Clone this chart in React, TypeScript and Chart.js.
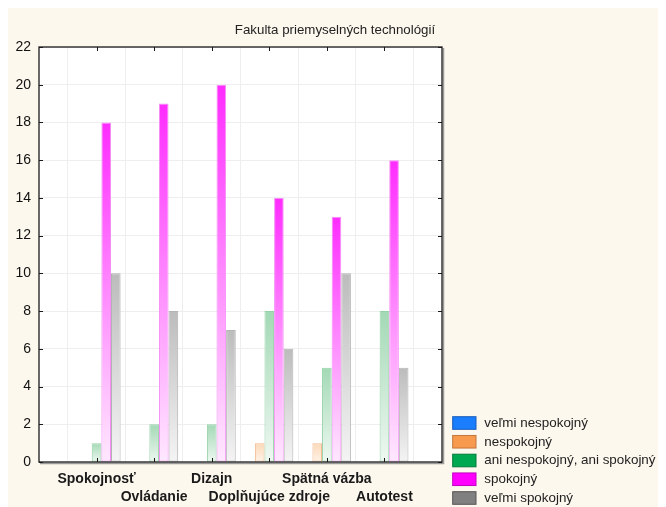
import React, { useEffect, useRef } from 'react';
import { Chart, registerables } from 'chart.js';
Chart.register(...registerables);

const titleText = 'Fakulta priemyselných technológií';
const categories = ['Spokojnosť', 'Ovládanie', 'Dizajn', 'Doplňujúce zdroje', 'Spätná vázba', 'Autotest'];
const seriesNames = ['veľmi nespokojný', 'nespokojný', 'ani nespokojný, ani spokojný', 'spokojný', 'veľmi spokojný'];
const velmiNespokojny = [0, 0, 0, 0, 0, 0];
const nespokojny = [0, 0, 0, 1, 1, 0];
const aniNespokojnyAniSpokojny = [1, 2, 2, 8, 5, 8];
const spokojny = [18, 19, 20, 14, 13, 16];
const velmiSpokojny = [10, 8, 7, 6, 10, 5];
const yMin = 0;
const yMax = 22;
const yStep = 2;

const seriesValues = [velmiNespokojny, nespokojny, aniNespokojnyAniSpokojny, spokojny, velmiSpokojny];
const legendFill = ['#1a7eff', '#f79a4e', '#00a850', '#ff00ff', '#808080'];
const legendBorder = ['#1a5cb8', '#c0773a', '#007a3a', '#c000c0', '#555555'];
const barTop = ['#4a9cff', '#fbd9b8', '#a3d9b5', '#ff2cff', '#bcbcbc'];
const barBottom = ['#e8f2ff', '#fff3e8', '#eef8f1', '#ffe8ff', '#f4f4f4'];
const barBorder = ['#7fb6ff', '#f2b88e', '#95d2a8', '#f58cf5', '#b4b4b4'];

const FONT = '"Liberation Sans", Arial, sans-serif';

export default function App() {
  const ref = useRef<HTMLCanvasElement>(null);
  useEffect(() => {
    if (!ref.current) return;
    const labels: any[] = ['', ...categories.map((c, i) => (i % 2 === 0 ? [c, ''] : ['', c])), ''];
    const datasets = seriesValues.map((vals, si) => ({
      label: seriesNames[si],
      data: [null, ...vals, null],
      borderColor: barBorder[si],
      borderWidth: (ctx: any) => (ctx.raw ? 1 : 0),
      borderSkipped: false,
      backgroundColor: (ctx: any) => {
        const chart = ctx.chart;
        const area = chart.chartArea;
        if (!area || ctx.type !== 'data' || !ctx.raw) return barTop[si];
        const ys = chart.scales.y;
        const top = ys.getPixelForValue(ctx.raw);
        const base = ys.getPixelForValue(0);
        if (!isFinite(top) || !isFinite(base) || base - top < 1) return barTop[si];
        const g = chart.ctx.createLinearGradient(0, top, 0, base);
        g.addColorStop(0, barTop[si]);
        g.addColorStop(1, barBottom[si]);
        return g;
      },
      barPercentage: 1,
      categoryPercentage: 0.835,
    }));

    const decor = {
      id: 'decor',
      beforeDraw(chart: any) {
        const { ctx, chartArea: a } = chart;
        ctx.save();
        ctx.fillStyle = '#ffffff';
        ctx.fillRect(a.left, a.top, a.right - a.left, a.bottom - a.top);
        ctx.restore();
      },
      afterDraw(chart: any) {
        const { ctx, chartArea: a, scales } = chart;
        ctx.save();
        ctx.strokeStyle = '#9a9a9a';
        ctx.lineWidth = 1.5;
        ctx.beginPath();
        ctx.moveTo(a.right + 1.5, a.top + 1);
        ctx.lineTo(a.right + 1.5, a.bottom + 1.5);
        ctx.lineTo(a.left + 1, a.bottom + 1.5);
        ctx.stroke();
        ctx.strokeStyle = '#1a1a1a';
        ctx.lineWidth = 1.3;
        ctx.strokeRect(a.left, a.top, a.right - a.left, a.bottom - a.top);
        ctx.lineWidth = 1;
        ctx.beginPath();
        for (let v = yMin; v <= yMax; v += yStep) {
          const y = Math.round(scales.y.getPixelForValue(v)) + 0.5;
          ctx.moveTo(a.left, y); ctx.lineTo(a.left + 4, y);
          ctx.moveTo(a.right, y); ctx.lineTo(a.right - 4, y);
        }
        for (let i = 1; i <= categories.length; i++) {
          const x = Math.round(scales.x.getPixelForValue(i)) + 0.5;
          ctx.moveTo(x, a.top); ctx.lineTo(x, a.top + 4);
          ctx.moveTo(x, a.bottom); ctx.lineTo(x, a.bottom - 4);
        }
        ctx.stroke();
        ctx.fillStyle = '#222222';
        ctx.font = `13.3px ${FONT}`;
        ctx.textAlign = 'center';
        ctx.textBaseline = 'middle';
        ctx.fillText(titleText, 327, 22.6);
        ctx.textAlign = 'left';
        ctx.font = `13.4px ${FONT}`;
        for (let i = 0; i < seriesNames.length; i++) {
          const y = 408.7 + i * 18.75;
          ctx.fillStyle = legendFill[i];
          ctx.fillRect(444.7, y, 23.3, 12.6);
          ctx.strokeStyle = legendBorder[i];
          ctx.lineWidth = 1;
          ctx.strokeRect(444.7, y, 23.3, 12.6);
          ctx.fillStyle = '#222222';
          ctx.fillText(seriesNames[i], 476.3, y + 6.6);
        }
        ctx.restore();
      },
    };

    const chart = new Chart(ref.current, {
      type: 'bar',
      data: { labels, datasets: datasets as any },
      plugins: [decor],
      options: {
        animation: false,
        responsive: false,
        maintainAspectRatio: false,
        layout: { padding: { top: 39, right: 224, left: 0, bottom: 0 } },
        plugins: { legend: { display: false }, title: { display: false }, tooltip: { enabled: false } },
        scales: {
          x: {
            offset: false,
            grid: { color: '#eeeeee', drawTicks: false },
            border: { display: false },
            ticks: {
              autoSkip: false,
              maxRotation: 0,
              padding: 8,
              color: '#1a1a1a',
              font: { family: FONT, size: 14, weight: 'bold', lineHeight: 1.3 },
            },
            afterFit: (s: any) => { s.height = 45; },
          },
          y: {
            min: yMin,
            max: yMax,
            grid: { color: '#eeeeee', drawTicks: false },
            border: { display: false },
            ticks: {
              stepSize: yStep,
              padding: 8,
              color: '#111111',
              font: { family: FONT, size: 14 },
            },
            afterFit: (s: any) => { s.width = 31; },
          },
        },
      } as any,
    });
    return () => chart.destroy();
  }, []);
  return (
    <div style={{ width: 658, height: 499, background: '#fdf8ee' }}>
      <canvas ref={ref} width={658} height={499} style={{ display: 'block' }} />
    </div>
  );
}
